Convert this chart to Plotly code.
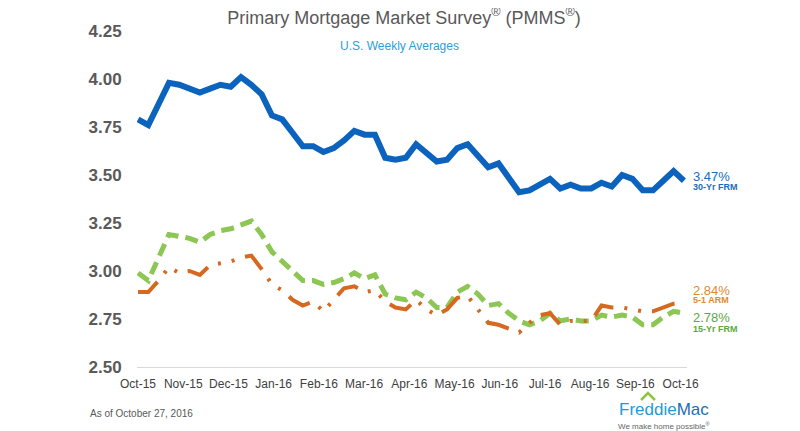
import pandas as pd
import plotly.graph_objects as go

# weekly PMMS survey dates (Thursdays)
weeks = pd.date_range("2015-10-22", "2016-10-27", freq="7D")

frm30 = [3.79, 3.76, 3.87, 3.98, 3.97, 3.95, 3.93, 3.95, 3.97, 3.96, 4.01, 3.97,
         3.92, 3.81, 3.79, 3.72, 3.65, 3.65, 3.62, 3.64, 3.68, 3.73, 3.71, 3.71,
         3.59, 3.58, 3.59, 3.66, 3.61, 3.57, 3.58, 3.64, 3.66, 3.60, 3.54, 3.56,
         3.48, 3.41, 3.42, 3.45, 3.48, 3.43, 3.45, 3.43, 3.43, 3.46, 3.44, 3.50,
         3.48, 3.42, 3.42, 3.47, 3.52, 3.47]

frm15 = [2.99, 2.95, 3.07, 3.19, 3.18, 3.17, 3.15, 3.19, 3.21, 3.22, 3.24, 3.26,
         3.19, 3.10, 3.05, 3.00, 2.95, 2.95, 2.93, 2.94, 2.96, 2.99, 2.96, 2.98,
         2.88, 2.86, 2.85, 2.89, 2.86, 2.81, 2.81, 2.89, 2.92, 2.88, 2.82, 2.83,
         2.78, 2.74, 2.72, 2.74, 2.78, 2.74, 2.75, 2.74, 2.74, 2.77, 2.76, 2.77,
         2.76, 2.72, 2.72, 2.76, 2.79, 2.78]

arm51 = [2.89, 2.89, 2.95, 3.02, 2.99, 3.00, 2.98, 3.03, 3.04, 3.05, 3.07, 3.08,
         3.01, 2.93, 2.90, 2.85, 2.82, 2.84, 2.79, 2.85, 2.91, 2.92, 2.89, 2.90,
         2.84, 2.81, 2.80, 2.85, 2.80, 2.77, 2.80, 2.86, 2.87, 2.80, 2.73, 2.72,
         2.70, 2.68, 2.73, 2.77, 2.78, 2.72, 2.74, 2.74, 2.74, 2.82, 2.81, 2.81,
         2.80, 2.79, 2.79, 2.81, 2.83, 2.84]

month_labels = ["Oct-15", "Nov-15", "Dec-15", "Jan-16", "Feb-16", "Mar-16", "Apr-16",
                "May-16", "Jun-16", "Jul-16", "Aug-16", "Sep-16", "Oct-16"]
y_ticks = [2.50, 2.75, 3.00, 3.25, 3.50, 3.75, 4.00, 4.25]

x = list(range(len(weeks)))
dates = list(weeks.strftime("%b %d, %Y"))
month_pos = [k * 4.39 for k in range(len(month_labels))]

BLUE = "#0b63be"
ORANGE = "#d5691f"
GREEN = "#8cc653"
FONT = "Liberation Sans, Arial, sans-serif"

fig = go.Figure()
fig.add_trace(go.Scatter(x=x, y=frm15, mode="lines", name="15-Yr FRM", customdata=dates,
                         line=dict(color=GREEN, width=5, dash="13px,7px"),
                         hovertemplate="%{customdata}: %{y:.2f}%<extra>15-Yr FRM</extra>"))
fig.add_trace(go.Scatter(x=x, y=arm51, mode="lines", name="5-1 ARM", customdata=dates,
                         line=dict(color=ORANGE, width=4, dash="24px,11px,3px,11px,3px,11px"),
                         hovertemplate="%{customdata}: %{y:.2f}%<extra>5-1 ARM</extra>"))
fig.add_trace(go.Scatter(x=x, y=frm30, mode="lines", name="30-Yr FRM", customdata=dates,
                         line=dict(color=BLUE, width=6),
                         hovertemplate="%{customdata}: %{y:.2f}%<extra>30-Yr FRM</extra>"))

# end-of-line labels
end_labels = [
    (3.49, "3.47%", 13, "#1b6cb8"), (3.44, "<b>30-Yr FRM</b>", 9, "#1b6cb8"),
    (2.90, "2.84%", 13, "#e08a2e"), (2.85, "<b>5-1 ARM</b>", 9, "#e08a2e"),
    (2.76, "2.78%", 13, "#5ea83c"), (2.70, "<b>15-Yr FRM</b>", 9, "#5ea83c"),
]
for yv, txt, sz, col in end_labels:
    fig.add_annotation(x=x[-1], y=yv, xref="x", yref="y", text=txt, showarrow=False,
                       xanchor="left", yanchor="middle", xshift=7,
                       font=dict(size=sz, color=col, family=FONT))

fig.add_annotation(x=0.478, y=0.955, xref="paper", yref="paper", text="U.S. Weekly Averages",
                   xanchor="center", yanchor="middle", showarrow=False,
                   font=dict(size=12, color="#2a9fd8", family=FONT))
fig.add_annotation(x=-0.089, y=-0.137, xref="paper", yref="paper", xanchor="left", yanchor="middle",
                   text="As of October 27, 2016", showarrow=False,
                   font=dict(size=10, color="#595959", family=FONT))

# Freddie Mac logo
fig.add_annotation(x=0.958, y=-0.125, xref="paper", yref="paper", showarrow=False,
                   xanchor="center", yanchor="middle",
                   text="<span style='color:#1f9ad6'>Freddie</span><span style='color:#1b70b6'>Mac</span>",
                   font=dict(size=17, family=FONT))
fig.add_annotation(x=0.958, y=-0.176, xref="paper", yref="paper", showarrow=False,
                   xanchor="center", yanchor="middle",
                   text="We make home possible<sup>®</sup>",
                   font=dict(size=8, color="#666666", family=FONT))
fig.add_shape(type="path", xref="paper", yref="paper",
              path="M 0.9164 -0.0982 L 0.929 -0.0774 L 0.9418 -0.0982",
              line=dict(color="#8dc63f", width=2.5))

# page body adds an 8px offset, so the figure is 8px smaller and margins shifted
fig.update_layout(
    width=792, height=423,
    margin=dict(l=129, r=113, t=23, b=64),
    plot_bgcolor="white", paper_bgcolor="white",
    showlegend=False,
    font=dict(family=FONT),
    title=dict(text="Primary Mortgage Market Survey<sup>®</sup> (PMMS<sup>®</sup>)",
               x=0.5, xref="container", xanchor="center",
               y=0.978, yref="container", yanchor="middle",
               font=dict(size=18, color="#595959", family=FONT)),
    xaxis=dict(range=[-0.1, 53.3], tickvals=month_pos, ticktext=month_labels,
               showgrid=False, zeroline=False, showline=True, linecolor="#d9d9d9", linewidth=1,
               ticks="outside", ticklen=6, tickcolor="rgba(0,0,0,0)",
               tickfont=dict(size=12, color="#404040", family=FONT)),
    yaxis=dict(range=[2.5, 4.25], tickvals=y_ticks, ticktext=[f"{v:.2f}" for v in y_ticks],
               showgrid=False, zeroline=False, showline=False,
               ticks="outside", ticklen=11, tickcolor="rgba(0,0,0,0)",
               tickfont=dict(size=17, color="#595959", family=FONT, weight="bold")),
)

fig.write_html("out.html")
